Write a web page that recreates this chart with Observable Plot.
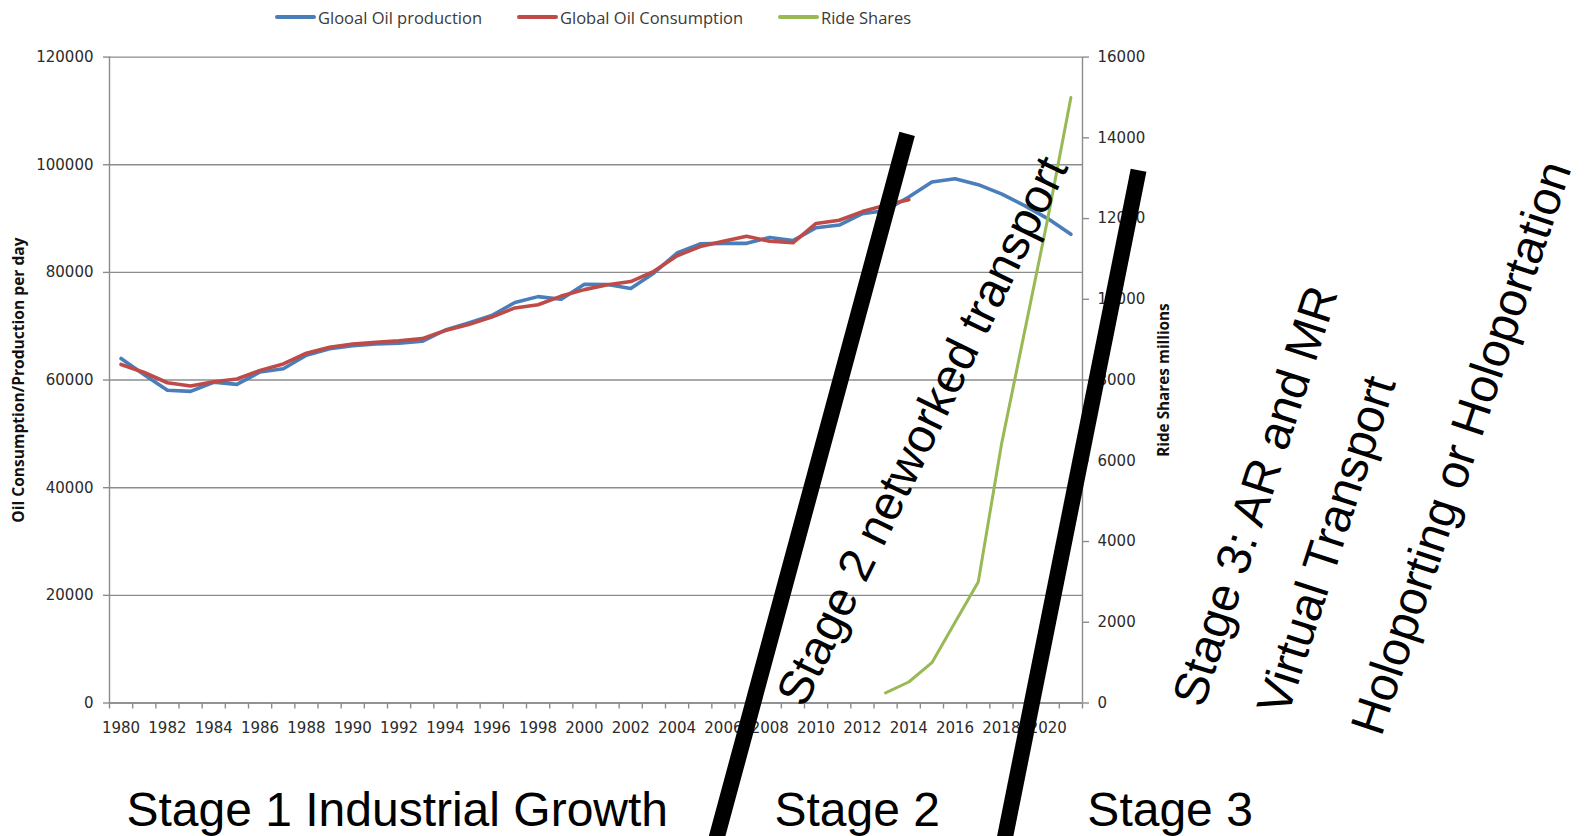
<!DOCTYPE html>
<html>
<head>
<meta charset="utf-8">
<script src="https://cdn.jsdelivr.net/npm/d3@7"></script>
<script src="https://cdn.jsdelivr.net/npm/@observablehq/plot@0.6"></script>
<style>
  body { margin: 0; background: #fff; width: 1585px; height: 836px; overflow: hidden; }
  #legend { position: relative; height: 34px; font-family: "Open Sans", sans-serif; font-size: 16.5px; color: #3a3a3a; }
  #legend .item { position: absolute; top: 0; height: 34px; display: flex; align-items: center; white-space: nowrap; }
  #legend .sw { display: inline-block; width: 41px; height: 3.5px; margin-right: 2px; border-radius: 2px; }
  #chart svg { display: block; overflow: visible; }
</style>
</head>
<body>
<div id="legend"></div>
<div id="chart"></div>
<script>
// Years on the category axis
const years = [1980, 1981, 1982, 1983, 1984, 1985, 1986, 1987, 1988, 1989,
               1990, 1991, 1992, 1993, 1994, 1995, 1996, 1997, 1998, 1999,
               2000, 2001, 2002, 2003, 2004, 2005, 2006, 2007, 2008, 2009,
               2010, 2011, 2012, 2013, 2014, 2015, 2016, 2017, 2018, 2019,
               2020, 2021];

// Global oil production (thousand barrels per day), 1980–2021
const oilProduction = [64000, 61000, 58100, 57900, 59600, 59200, 61500, 62100, 64600, 65800,
                       66400, 66700, 66850, 67200, 69300, 70600, 72000, 74400, 75500, 75000,
                       77800, 77750, 77000, 79900, 83600, 85300, 85400, 85400, 86500, 85900,
                       88300, 88800, 90900, 91500, 94000, 96800, 97400, 96300, 94600, 92400,
                       90000, 87100];

// Global oil consumption, 1980–2014
const consumptionYears = [1980, 1981, 1982, 1983, 1984, 1985, 1986, 1987, 1988, 1989,
                          1990, 1991, 1992, 1993, 1994, 1995, 1996, 1997, 1998, 1999,
                          2000, 2001, 2002, 2003, 2004, 2005, 2006, 2007, 2008, 2009,
                          2010, 2011, 2012, 2013, 2014];
const oilConsumption = [62900, 61400, 59500, 58900, 59700, 60200, 61800, 63000, 65000, 66100,
                        66700, 67000, 67300, 67700, 69200, 70300, 71700, 73400, 74000, 75600,
                        76800, 77700, 78300, 80200, 83100, 84800, 85800, 86700, 85800, 85500,
                        89100, 89700, 91300, 92500, 93500];

// Ride shares (millions), secondary axis
const rideYears = [2013, 2014, 2015, 2016, 2017, 2018, 2019, 2020, 2021];
const rideShares = [250, 520, 1000, 2000, 3000, 6400, 9200, 12000, 15000];

// Axis ticks
const leftTicks = [0, 20000, 40000, 60000, 80000, 100000, 120000];
const rightTicks = [0, 2000, 4000, 6000, 8000, 10000, 12000, 14000, 16000];
const yearLabels = [1980, 1982, 1984, 1986, 1988, 1990, 1992, 1994, 1996, 1998,
                    2000, 2002, 2004, 2006, 2008, 2010, 2012, 2014, 2016, 2018, 2020];

// Series names and colours
const seriesNames = ["Glooal Oil production", "Global Oil Consumption", "Ride Shares"];
const seriesColors = ["#4a7ebb", "#be4b48", "#98b954"];

// Axis titles
const leftTitle = "Oil Consumption/Production per day";
const rightTitle = "Ride Shares millions";

// Stage annotations
const stageCaptions = ["Stage 1 Industrial Growth", "Stage 2", "Stage 3"];
const stageNotes = ["Stage 2 networked transport", "Stage 3: AR and MR", "Virtual Transport", "Holoporting or Holoportation"];

// ---------------------------------------------------------------
const ratio = leftTicks[leftTicks.length - 1] / rightTicks[rightTicks.length - 1];
const bandEdges = years.map(y => y - 0.5).concat(years[years.length - 1] + 0.5);
const xDomain = [bandEdges[0], bandEdges[bandEdges.length - 1]];

const prodRows = years.map((year, i) => ({year, value: oilProduction[i]}));
const consRows = consumptionYears.map((year, i) => ({year, value: oilConsumption[i]}));
const rideRows = rideYears.map((year, i) => ({year, value: rideShares[i] * ratio}));

// Legend above the chart
const legend = d3.select("#legend");
const legendLeft = [275, 517, 778];
seriesNames.forEach((name, i) => {
  const item = legend.append("div").attr("class", "item").style("left", legendLeft[i] + "px");
  item.append("span").attr("class", "sw").style("background", seriesColors[i]);
  item.append("span").text(name);
});

// Placement of the hand-drawn stage dividers and notes, in chart units
const dividerLayout = [
  {x1: 2013.93, y1: 105740, x2: 2005.56, y2: -27400},
  {x1: 2023.92, y1: 98980, x2: 2018.04, y2: -27400}
];
const captionLayout = [
  {x: 1980.23, y: -22760},
  {x: 2008.20, y: -22760},
  {x: 2021.71, y: -22760}
];
const noteLayout = [
  {x: 2009.50, y: -1100, rotate: -64},
  {x: 2026.70, y: -1100, rotate: -72},
  {x: 2030.35, y: -2600, rotate: -72},
  {x: 2034.40, y: -6400, rotate: -71.5}
];
const captions = stageCaptions.map((text, i) => ({text, ...captionLayout[i]}));
const notes = stageNotes.map((text, i) => ({text, ...noteLayout[i]}));

const axisGray = "#8c8c8c";
const labelInk = "#2b2b2b";

const chart = Plot.plot({
  width: 1585,
  height: 802,
  marginLeft: 109,
  marginRight: 503,
  marginTop: 22.6,
  marginBottom: 133.5,
  x: {type: "linear", domain: xDomain},
  y: {domain: [0, 120000]},
  style: {fontFamily: "DejaVu Sans, sans-serif", fontSize: "15px", background: "white", overflow: "visible"},
  marks: [
    Plot.gridY(leftTicks, {stroke: axisGray, strokeOpacity: 1, strokeWidth: 1.4}),
    Plot.ruleX([xDomain[0], xDomain[1]], {stroke: axisGray, strokeWidth: 1.4}),
    Plot.ruleY([0], {stroke: axisGray, strokeWidth: 1.4}),
    Plot.axisX(bandEdges, {tickSize: 6, stroke: axisGray, strokeWidth: 1.4, tickFormat: () => "", label: null}),
    Plot.axisX(yearLabels, {tickSize: 0, tickPadding: 19, fill: labelInk, tickFormat: d => String(d), label: null}),
    Plot.axisY(leftTicks, {tickSize: 6, tickPadding: 10, stroke: axisGray, strokeWidth: 1.4, fill: labelInk, tickFormat: d3.format("d"), label: null}),
    Plot.axisY(rightTicks.map(v => v * ratio), {anchor: "right", tickSize: 6, tickPadding: 9, stroke: axisGray, strokeWidth: 1.4, fill: labelInk, tickFormat: d => d3.format("d")(Math.round(d / ratio)), label: null}),
    Plot.text([leftTitle], {text: d => d, frameAnchor: "left", dx: -91, rotate: -90, textAnchor: "middle", fontFamily: "Open Sans, sans-serif", fontWeight: "bold", fontSize: 15.6, fill: "#111"}),
    Plot.text([rightTitle], {text: d => d, frameAnchor: "right", dx: 82, rotate: -90, textAnchor: "middle", fontFamily: "Open Sans, sans-serif", fontWeight: "bold", fontSize: 15.3, fill: "#111"}),
    Plot.line(prodRows, {x: "year", y: "value", stroke: seriesColors[0], strokeWidth: 3.6, strokeLinejoin: "round"}),
    Plot.line(consRows, {x: "year", y: "value", stroke: seriesColors[1], strokeWidth: 3.6, strokeLinejoin: "round"}),
    Plot.line(rideRows, {x: "year", y: "value", stroke: seriesColors[2], strokeWidth: 3, strokeLinejoin: "round"}),
    Plot.link(dividerLayout, {x1: "x1", y1: "y1", x2: "x2", y2: "y2", stroke: "black", strokeWidth: 16}),
    Plot.text(captions, {x: "x", y: "y", text: "text", textAnchor: "start", lineAnchor: "bottom", fontFamily: "Liberation Sans, Arial, sans-serif", fontSize: 48, fill: "black"}),
    Plot.text(notes, {x: "x", y: "y", text: "text", rotate: "rotate", textAnchor: "start", lineAnchor: "bottom", fontFamily: "Liberation Sans, Arial, sans-serif", fontSize: 48, fill: "black"})
  ]
});

document.getElementById("chart").appendChild(chart);
</script>
</body>
</html>
